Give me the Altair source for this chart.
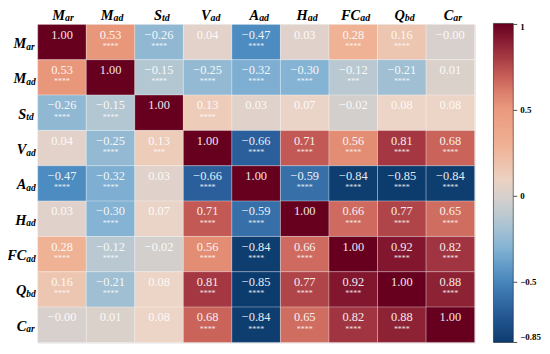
import altair as alt
import pandas as pd

# ---- data ----
var_main = ["M", "M", "S", "V", "A", "H", "FC", "Q", "C"]
var_sub = ["ar", "ad", "td", "ad", "ad", "ad", "ad", "bd", "ar"]

corr = [
    [1.00, 0.53, -0.26, 0.04, -0.47, 0.03, 0.28, 0.16, -0.0],
    [0.53, 1.00, -0.15, -0.25, -0.32, -0.30, -0.12, -0.21, 0.01],
    [-0.26, -0.15, 1.00, 0.13, 0.03, 0.07, -0.02, 0.08, 0.08],
    [0.04, -0.25, 0.13, 1.00, -0.66, 0.71, 0.56, 0.81, 0.68],
    [-0.47, -0.32, 0.03, -0.66, 1.00, -0.59, -0.84, -0.85, -0.84],
    [0.03, -0.30, 0.07, 0.71, -0.59, 1.00, 0.66, 0.77, 0.65],
    [0.28, -0.12, -0.02, 0.56, -0.84, 0.66, 1.00, 0.92, 0.82],
    [0.16, -0.21, 0.08, 0.81, -0.85, 0.77, 0.92, 1.00, 0.88],
    [-0.0, 0.01, 0.08, 0.68, -0.84, 0.65, 0.82, 0.88, 1.00],
]

stars = [
    ["", "****", "****", "", "****", "", "****", "****", ""],
    ["****", "", "****", "****", "****", "****", "***", "****", ""],
    ["****", "****", "", "****", "", "", "", "", ""],
    ["", "****", "***", "", "****", "****", "****", "****", "****"],
    ["****", "****", "", "****", "", "****", "****", "****", "****"],
    ["", "****", "", "****", "****", "", "****", "****", "****"],
    ["****", "****", "", "****", "****", "****", "", "****", "****"],
    ["****", "****", "", "****", "****", "****", "****", "", "****"],
    ["", "", "", "****", "****", "****", "****", "****", ""],
]

legend_ticks = [1, 0.5, 0, -0.5, -0.85]

color_domain = [-0.85, -0.66, -0.47, -0.3, -0.15, 0, 0.08, 0.28, 0.53, 0.7, 0.85, 1]
color_range = ["#0c3b6e", "#2a5f9b", "#4d8cc0", "#84b3d4", "#b3c7d2", "#d8d0cc",
               "#ecd4c6", "#efb295", "#e9977b", "#c65c56", "#972a3b", "#67001f"]

# ---- tables ----
keys = [m + "_" + s for m, s in zip(var_main, var_sub)]
rows = []
for i, rk in enumerate(keys):
    for j, ck in enumerate(keys):
        v = corr[i][j]
        rows.append({"row": rk, "col": ck, "value": v,
                     "label": f"{v:.2f}".replace("-", "\u2212"),
                     "stars": stars[i][j]})
df = pd.DataFrame(rows)
lab = pd.DataFrame({"row": keys, "col": keys, "main": var_main, "sub": var_sub})
ticks = pd.DataFrame({"t": legend_ticks})

band = alt.Scale(paddingInner=0, paddingOuter=0)
X = alt.X("col:N", sort=keys, axis=None, scale=band)
Y = alt.Y("row:N", sort=keys, axis=None, scale=band)
serif = "Liberation Serif"

rect = alt.Chart(df).mark_rect(stroke="white", strokeWidth=0.6, strokeOpacity=0.45).encode(
    x=X, y=Y,
    color=alt.Color("value:Q",
                    scale=alt.Scale(domain=color_domain, range=color_range, interpolate="rgb"),
                    legend=alt.Legend(orient="none", legendX=460, legendY=-1,
                                      direction="vertical", title=None,
                                      gradientLength=322, gradientThickness=20,
                                      gradientStrokeColor="#222", gradientStrokeWidth=0.6,
                                      values=legend_ticks, labelFont=serif,
                                      labelFontWeight="bold", labelFontSize=9,
                                      labelColor="black", labelOffset=7,
                                      labelExpr="replace(toString(datum.value), '-', '\u2212')")),
)

nums = alt.Chart(df).mark_text(font=serif, fontSize=12.5, baseline="alphabetic", dy=-3.5,
                               color="white", opacity=0.9).encode(x=X, y=Y, text="label:N")
st = alt.Chart(df).mark_text(font=serif, fontSize=8, baseline="alphabetic", dy=7,
                             color="white", opacity=0.85).encode(x=X, y=Y, text="stars:N")

lab_style = dict(font=serif, fontStyle="italic", fontWeight="bold", color="black",
                 baseline="alphabetic")

left_main = alt.Chart(lab).mark_text(align="right", fontSize=14.5, dy=6, **lab_style).encode(
    y=Y, x=alt.value(-11.5), text="main:N")
left_sub = alt.Chart(lab).mark_text(align="left", fontSize=9.5, dy=7.5, **lab_style).encode(
    y=Y, x=alt.value(-11.5), text="sub:N")

top_main = alt.Chart(lab).transform_filter("datum.main != 'FC'").mark_text(
    align="right", fontSize=14.5, dx=3, **lab_style).encode(x=X, y=alt.value(-4.5), text="main:N")
top_sub = alt.Chart(lab).transform_filter("datum.main != 'FC'").mark_text(
    align="left", fontSize=10, dx=3, **lab_style).encode(x=X, y=alt.value(-3), text="sub:N")
top_main_fc = alt.Chart(lab).transform_filter("datum.main == 'FC'").mark_text(
    align="right", fontSize=14.5, dx=7, **lab_style).encode(x=X, y=alt.value(-4.5), text="main:N")
top_sub_fc = alt.Chart(lab).transform_filter("datum.main == 'FC'").mark_text(
    align="left", fontSize=10, dx=7, **lab_style).encode(x=X, y=alt.value(-3), text="sub:N")

tick_marks = alt.Chart(ticks).mark_rule(color="#222", strokeWidth=0.8).encode(
    y=alt.Y("t:Q", scale=alt.Scale(domain=[-0.85, 1], nice=False, zero=False), axis=None),
    x=alt.value(480), x2=alt.value(484))

chart = alt.layer(rect, nums, st, left_main, left_sub, top_main, top_sub,
                  top_main_fc, top_sub_fc, tick_marks).resolve_scale(
    y="independent").properties(
    width=441, height=321,
    autosize=alt.AutoSizeParams(type="none"),
    padding={"left": 30, "top": 15, "right": 68, "bottom": 2},
).configure_view(stroke=None).configure(background="white")

chart.save("out.html", embed_options={"renderer": "svg", "actions": False})
